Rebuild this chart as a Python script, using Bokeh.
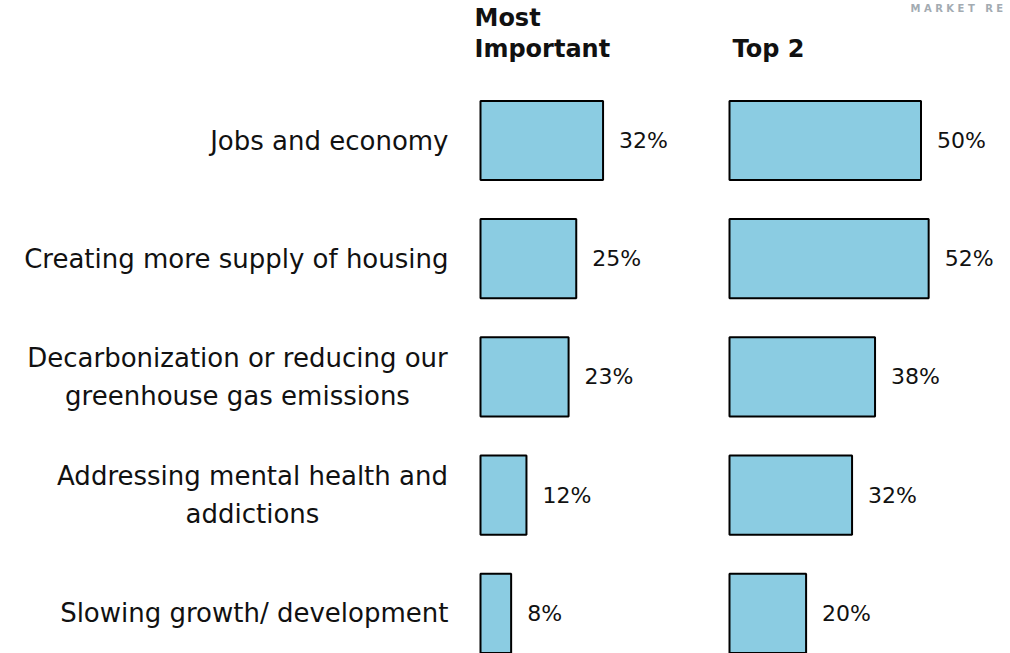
from bokeh.plotting import figure
from bokeh.models import Range1d, ColumnDataSource, Label
from bokeh.core.properties import value
from bokeh.embed import file_html
from bokeh.resources import INLINE

categories = [
    "Jobs and economy",
    "Creating more supply of housing",
    "Decarbonization or reducing our\ngreenhouse gas emissions",
    "Addressing mental health and\naddictions",
    "Slowing growth/ development",
]
most_important = [32, 25, 23, 12, 8]
top2 = [50, 52, 38, 32, 20]
header_mi = ["Most", "Important"]
header_t2 = "Top 2"
logo = "MARKET RE"

FONT = "DejaVu Sans"
FILL = "#8BCCE2"
TXT = "#111111"

rows = list(range(len(categories)))
src = ColumnDataSource(dict(
    y=rows, mi=most_important, t2=top2,
    mi_lab=[f"{v}%" for v in most_important],
    t2_lab=[f"{v}%" for v in top2],
))

# label positions (layout only): single-line labels right-aligned at the gutter,
# wrapped labels centred as a block ending at the gutter
GUTTER = 448
wrap_center = {2: 237, 3: 252}
single = [i for i in rows if "\n" not in categories[i]]
multi = [i for i in rows if "\n" in categories[i]]
src_single = ColumnDataSource(dict(y=single, cat=[categories[i] for i in single]))
src_multi = ColumnDataSource(dict(y=multi, cat=[categories[i] for i in multi],
                                  cx=[wrap_center[i] for i in multi]))

W, H = 1010, 653
scale = 3.83  # px per percent
p = figure(width=W, height=H, output_backend="svg", toolbar_location=None,
           x_range=Range1d(0, W), y_range=Range1d((H - 140) / 118.2, -140 / 118.2),
           min_border=0)
p.extra_x_ranges = {
    "mi": Range1d(-480 / scale, (W - 480) / scale),
    "t2": Range1d(-729 / scale, (W - 729) / scale),
}
p.axis.visible = False
p.grid.visible = False
p.outline_line_color = None
p.background_fill_color = "white"
p.border_fill_color = "white"

bh = 0.67
p.hbar(y="y", left=0, right="mi", height=bh, source=src, x_range_name="mi",
       fill_color=FILL, line_color="black", line_width=2)
p.hbar(y="y", left=0, right="t2", height=bh, source=src, x_range_name="t2",
       fill_color=FILL, line_color="black", line_width=2)

for col in ("mi", "t2"):
    p.text(x=col, y="y", text=col + "_lab", source=src, x_range_name=col, x_offset=16,
           text_font=value(FONT), text_font_size="22px", text_baseline="middle",
           text_align="left", text_color=TXT)

p.text(x=GUTTER, y="y", text="cat", source=src_single,
       text_font=value(FONT), text_font_size="26px", text_baseline="middle",
       text_align="right", text_color=TXT)
p.text(x="cx", y="y", text="cat", source=src_multi,
       text_font=value(FONT), text_font_size="26px", text_baseline="middle",
       text_align="center", text_color=TXT, text_line_height=1.25)

for txt, yy in zip(header_mi, (17, 48)):
    p.add_layout(Label(x=474, y=H - yy, x_units="screen", y_units="screen", text=txt,
                       text_font=FONT, text_font_size="24px", text_font_style="bold",
                       text_baseline="middle", text_color=TXT))
p.add_layout(Label(x=732, y=H - 48, x_units="screen", y_units="screen", text=header_t2,
                   text_font=FONT, text_font_size="24px", text_font_style="bold",
                   text_baseline="middle", text_color=TXT))
p.add_layout(Label(x=910, y=H - 8, x_units="screen", y_units="screen",
                   text="\u00a0".join(logo.replace(" ", "\u00a0")),
                   text_font=FONT, text_font_size="10px", text_font_style="bold",
                   text_baseline="middle", text_color="#A3ABB2"))

open("out.html", "w").write(file_html(p, INLINE))
